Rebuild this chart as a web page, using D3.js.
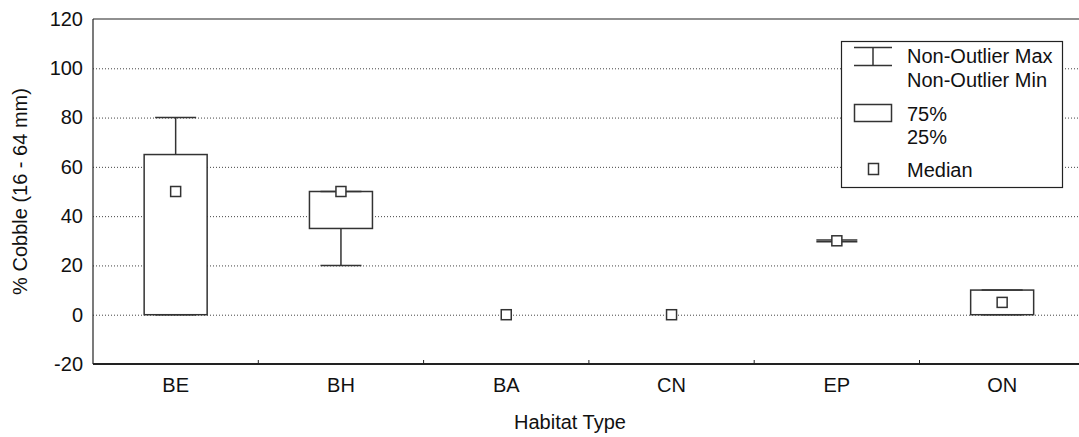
<html>
<head>
<meta charset="utf-8">
<style>
  body { margin: 0; background: #fff; }
  svg { display: block; }
  text { font-family: "Liberation Sans", Arial, sans-serif; fill: #111; }
  .grid line { stroke: #444; stroke-width: 1px; stroke-dasharray: 1,2; }
  .box { fill: #fff; stroke: #333; stroke-width: 1.5px; }
  .whisker { stroke: #333; stroke-width: 1.5px; }
</style>
<script src="https://d3js.org/d3.v7.min.js"></script>
</head>
<body>
<div id="container"></div>
<script>

// habitat types and box statistics (% cobble)
const categories = ["BE", "BH", "BA", "CN", "EP", "ON"];
const mins    = [0, 20, 0, 0, 29.6, 0];
const q1s     = [0, 35, 0, 0, 30, 0];
const medians = [50, 50, 0, 0, 30, 5];
const q3s     = [65, 50, 0, 0, 30, 10];
const maxs    = [80, 50, 0, 0, 30.3, 10];
const yTicks  = [-20, 0, 20, 40, 60, 80, 100, 120];

const W = 1079, H = 437;
const margin = {top: 19, left: 93, bottom: 73};
const band = 165.3;
const fs = "20px";

const svg = d3.select("#container").append("svg")
    .attr("width", W).attr("height", H);

const x = d3.scaleBand().domain(categories)
    .range([margin.left, margin.left + band * categories.length]);
const y = d3.scaleLinear().domain([-20, 120]).range([H - margin.bottom, margin.top]);

// dotted grid
svg.append("g").attr("class", "grid")
  .selectAll("line").data(yTicks.filter(d => d > -20 && d < 120)).join("line")
    .attr("x1", margin.left).attr("x2", W)
    .attr("y1", d => y(d) + 0.5).attr("y2", d => y(d) + 0.5);

// frame
const frame = svg.append("g").attr("stroke", "#222").attr("stroke-width", 1.2);
frame.append("line").attr("x1", margin.left).attr("x2", W).attr("y1", y(120)).attr("y2", y(120));
frame.append("line").attr("x1", margin.left).attr("x2", W).attr("y1", y(-20)).attr("y2", y(-20)).attr("stroke-width", 1.8);
frame.append("line").attr("x1", margin.left).attr("x2", margin.left).attr("y1", y(120)).attr("y2", y(-20));

// y axis
const yAxis = d3.axisLeft(y).tickValues(yTicks).tickSize(0).tickPadding(10).tickFormat(d => String(d));
svg.append("g").attr("transform", `translate(${margin.left},0)`).call(yAxis)
  .call(g => g.select(".domain").remove())
  .selectAll("text").style("font-size", fs).attr("font-family", null).attr("fill", "#111");

// x axis ticks (between categories, pointing up) and labels
const bounds = categories.slice(1).map(c => x(c));
svg.append("g").selectAll("line").data(bounds).join("line")
    .attr("x1", d => d).attr("x2", d => d)
    .attr("y1", y(-20)).attr("y2", y(-20) - 4)
    .attr("stroke", "#222").attr("stroke-width", 1);
svg.append("g").selectAll("text").data(categories).join("text")
    .attr("x", d => x(d) + x.bandwidth() / 2).attr("y", 392)
    .attr("text-anchor", "middle").style("font-size", fs).text(d => d);

// axis titles
svg.append("text").attr("x", 570).attr("y", 429).attr("text-anchor", "middle")
    .style("font-size", fs).text("Habitat Type");
svg.append("text").attr("transform", `translate(27,${(y(120) + y(-20)) / 2}) rotate(-90)`)
    .attr("text-anchor", "middle").style("font-size", fs).text("% Cobble (16 - 64 mm)");

// boxes
const boxW = 63, capW = 41;
const stats = categories.map((c, i) => ({
    c, min: mins[i], q1: q1s[i], med: medians[i], q3: q3s[i], max: maxs[i]
}));
const bx = svg.append("g").selectAll("g").data(stats).join("g")
    .attr("transform", d => `translate(${x(d.c) + x.bandwidth() / 2},0)`);

bx.filter(d => d.max > d.q3).append("line").attr("class", "whisker")
    .attr("x1", 0).attr("x2", 0).attr("y1", d => y(d.q3)).attr("y2", d => y(d.max));
bx.filter(d => d.min < d.q1).append("line").attr("class", "whisker")
    .attr("x1", 0).attr("x2", 0).attr("y1", d => y(d.q1)).attr("y2", d => y(d.min));
bx.filter(d => d.q3 > d.q1 || d.max > d.min).append("rect").attr("class", "box")
    .attr("x", -boxW / 2).attr("width", boxW)
    .attr("y", d => y(d.q3)).attr("height", d => y(d.q1) - y(d.q3));
bx.filter(d => d.max > d.min).selectAll(".cap")
    .data(d => [d.min, d.max]).join("line").attr("class", "whisker")
    .attr("x1", -capW / 2).attr("x2", capW / 2)
    .attr("y1", v => y(v)).attr("y2", v => y(v));
bx.append("rect").attr("class", "box")
    .attr("x", -5).attr("width", 10)
    .attr("y", d => y(d.med) - 5).attr("height", 10);

// legend
const lg = svg.append("g");
lg.append("rect").attr("x", 841.5).attr("y", 41.5).attr("width", 221).attr("height", 146)
    .attr("fill", "#fff").attr("stroke", "#222").attr("stroke-width", 1.2);
lg.append("line").attr("class", "whisker").attr("x1", 854).attr("x2", 892).attr("y1", 47.5).attr("y2", 47.5);
lg.append("line").attr("class", "whisker").attr("x1", 854).attr("x2", 892).attr("y1", 65.5).attr("y2", 65.5);
lg.append("line").attr("class", "whisker").attr("x1", 873).attr("x2", 873).attr("y1", 47.5).attr("y2", 65.5);
lg.append("rect").attr("class", "box").attr("x", 854.5).attr("y", 104.5).attr("width", 37).attr("height", 17);
lg.append("rect").attr("class", "box").attr("x", 868.5).attr("y", 163.5).attr("width", 10).attr("height", 11);
const legendText = [["Non-Outlier Max", 63], ["Non-Outlier Min", 87], ["75%", 121], ["25%", 144], ["Median", 177]];
lg.selectAll(".lt").data(legendText).join("text")
    .attr("x", 907).attr("y", d => d[1]).style("font-size", fs).text(d => d[0]);

</script>
</body>
</html>
